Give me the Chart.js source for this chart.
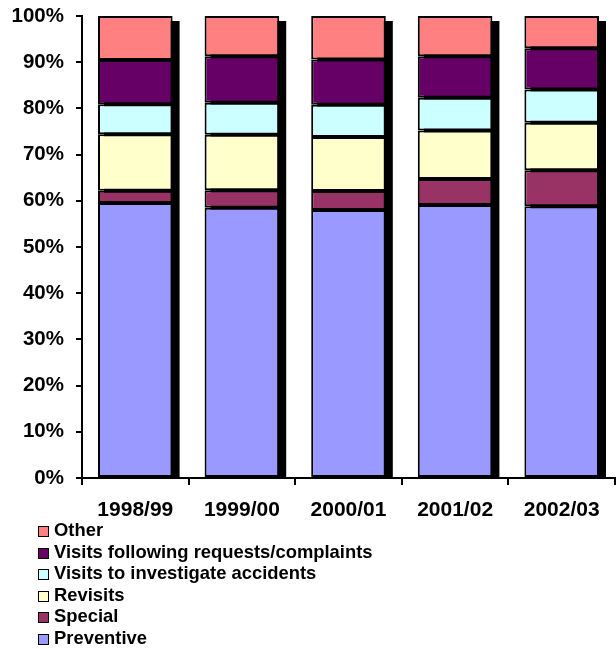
<!DOCTYPE html>
<html>
<head>
<meta charset="utf-8">
<script src="https://cdn.jsdelivr.net/npm/chart.js@4"></script>
<style>
  html, body { margin: 0; padding: 0; background: #fff; }
  #wrap { position: relative; width: 616px; height: 649px; }
  #legend { position: absolute; left: 38px; top: 519px; font: bold 18.4px "Liberation Sans", Arial, sans-serif; color: #000; }
  .item { height: 21.6px; line-height: 21.6px; white-space: nowrap; }
  .box { display: inline-block; width: 9px; height: 9px; border: 1.5px solid #000; margin-right: 5px; vertical-align: -1px; }
</style>
</head>
<body>
<div id="wrap">
  <canvas id="chart" width="616" height="649"></canvas>
  <div id="legend"></div>
</div>
<script>
const years = ['1998/99', '1999/00', '2000/01', '2001/02', '2002/03'];
const seriesNames = ['Preventive', 'Special', 'Revisits', 'Visits to investigate accidents', 'Visits following requests/complaints', 'Other'];
const seriesColors = ['#9999FF', '#993366', '#FFFFCC', '#CCFFFF', '#660066', '#FF8080'];
// percentages per year, bottom of the stack first
const preventive = [59.5, 58.5, 58.0, 59.1, 58.8];
const special = [2.7, 3.8, 4.1, 5.6, 7.8];
const revisits = [12.2, 12.0, 11.7, 10.5, 10.3];
const accidents = [6.5, 6.9, 7.0, 7.1, 7.2];
const requests = [9.6, 10.1, 9.8, 9.0, 8.9];
const other = [9.5, 8.7, 9.4, 8.7, 7.0];
const seriesValues = [preventive, special, revisits, accidents, requests, other];

const FONT = '"Liberation Sans", Arial, sans-serif';

// black drop shadow behind each stacked column
const shadowPlugin = {
    id: 'barShadow',
    beforeDatasetsDraw(chart) {
        const ctx = chart.ctx;
        const n = chart.data.datasets.length;
        const topMeta = chart.getDatasetMeta(n - 1);
        const base = chart.scales.y.getPixelForValue(0);
        ctx.save();
        ctx.fillStyle = '#000';
        topMeta.data.forEach(bar => {
            const left = bar.x - bar.width / 2;
            ctx.fillRect(left + 6, bar.y + 5, bar.width + 1, base - bar.y - 5);
        });
        ctx.restore();
    }
};

const datasets = seriesNames.map((name, i) => ({
    label: name,
    data: seriesValues[i],
    backgroundColor: seriesColors[i],
    borderColor: '#000',
    borderWidth: 2,
    borderSkipped: false,
    barPercentage: 0.7,
    categoryPercentage: 1.0
}));

new Chart(document.getElementById('chart').getContext('2d'), {
    type: 'bar',
    data: { labels: years, datasets: datasets },
    plugins: [shadowPlugin],
    options: {
        responsive: false,
        animation: false,
        layout: { padding: { top: 16, right: 1, left: 0, bottom: 0 } },
        plugins: { legend: { display: false }, tooltip: { enabled: false } },
        scales: {
            x: {
                stacked: true,
                afterFit: scale => { scale.height = 171; scale.paddingRight = 0; },
                grid: { offset: true, drawOnChartArea: false, drawTicks: true, tickLength: 7, color: '#000', lineWidth: 2 },
                border: { color: '#000', width: 2 },
                ticks: { color: '#000', padding: 13, font: { family: FONT, size: 21, weight: 'bold' } }
            },
            y: {
                stacked: true,
                min: 0,
                max: 100,
                afterFit: scale => { scale.width = 82; scale.paddingTop = 0; scale.paddingBottom = 0; },
                grid: { drawOnChartArea: false, drawTicks: true, tickLength: 6, color: '#000', lineWidth: 2 },
                border: { color: '#000', width: 2 },
                ticks: { stepSize: 10, color: '#000', padding: 12, font: { family: FONT, size: 20.5, weight: 'bold' }, callback: v => v + '%' }
            }
        }
    }
});

// legend listed top of the stack first, one entry per line
const legend = document.getElementById('legend');
for (let i = seriesNames.length - 1; i >= 0; i--) {
    const row = document.createElement('div');
    row.className = 'item';
    const box = document.createElement('span');
    box.className = 'box';
    box.style.background = seriesColors[i];
    row.appendChild(box);
    row.appendChild(document.createTextNode(seriesNames[i]));
    legend.appendChild(row);
}
</script>
</body>
</html>
